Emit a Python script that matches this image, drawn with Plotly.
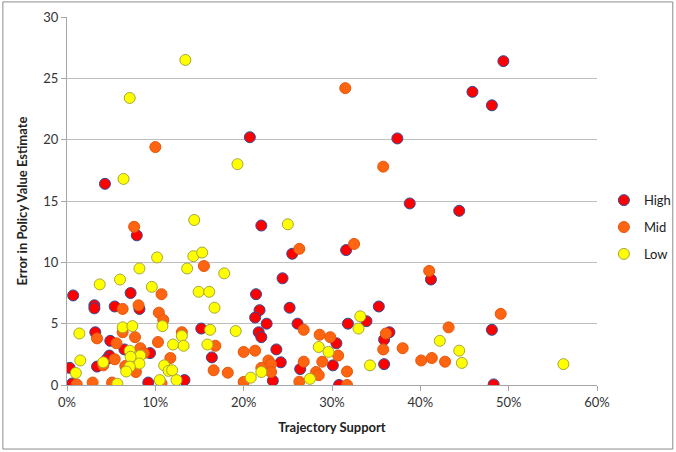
import plotly.graph_objects as go

# Trajectory support (%) and error values per group
high_x = [4.3, 20.7, 37.4, 38.8, 49.4, 45.9, 48.1, 44.4, 48.1, 48.3,
          22.0, 25.5, 31.6, 41.2, 24.4, 21.4, 25.2, 21.8, 21.3, 35.3,
          33.9, 22.6, 26.1, 31.8, 21.7, 22.0, 30.5, 36.5, 35.9, 23.7,
          24.2, 30.1, 35.9, 26.4, 23.3, 30.8,
          7.9, 7.2, 0.7, 3.1, 3.1, 5.4, 8.2, 3.2, 4.9, 6.5, 9.4, 4.8,
          4.5, 3.4, 0.3, 0.6, 9.2, 13.3, 15.2, 16.4]
high_y = [16.4, 20.2, 20.1, 14.8, 26.4, 23.9, 22.8, 14.2, 4.5, 0.05,
          13.0, 10.7, 11.0, 8.6, 8.7, 7.4, 6.3, 6.1, 5.5, 6.4,
          5.2, 5.0, 5.0, 5.0, 4.3, 3.9, 3.4, 4.3, 3.7, 2.9,
          1.85, 1.6, 1.7, 1.3, 0.35, 0.0,
          12.2, 7.5, 7.3, 6.5, 6.25, 6.4, 6.2, 4.3, 3.6, 2.9, 2.6, 2.4,
          2.1, 1.5, 1.4, 0.13, 0.2, 0.4, 4.6, 2.25]

mid_x = [10.0, 31.5, 35.8, 49.1, 43.2, 42.8, 26.3, 32.5, 41.0, 26.8,
         28.6, 29.8, 36.1, 35.8, 38.0, 40.1, 41.3, 21.3, 30.7, 22.8,
         23.1, 26.8, 28.9, 22.0, 23.1, 31.7, 28.2, 28.5, 26.3, 31.7,
         7.6, 15.5, 10.7, 6.3, 8.1, 10.4, 10.9, 3.4, 6.3, 7.7,
         5.6, 8.3, 8.7, 10.3, 13.0, 5.4, 4.1, 6.6, 7.8, 11.7,
         1.1, 2.9, 5.1, 10.7, 16.8, 20.0, 16.6, 18.2, 20.0]
mid_y = [19.4, 24.2, 17.8, 5.8, 4.7, 1.9, 11.1, 11.5, 9.3, 4.5,
         4.1, 3.9, 4.2, 2.9, 3.0, 2.0, 2.2, 2.8, 2.4, 2.0,
         1.7, 1.9, 1.9, 1.4, 1.06, 1.1, 1.06, 0.8, 0.27, 0.0,
         12.9, 9.7, 7.4, 6.2, 6.5, 5.9, 5.3, 3.8, 4.3, 3.9,
         3.4, 3.0, 2.6, 3.5, 4.3, 2.1, 1.6, 1.55, 1.06, 2.2,
         0.05, 0.2, 0.2, 0.13, 3.2, 2.7, 1.2, 1.0, 0.25]

low_x = [13.4, 7.1, 19.3, 6.4, 56.2, 42.2, 44.4, 44.7, 25.0, 33.2,
         33.0, 28.5, 29.6, 34.3, 22.0, 27.5, 20.8,
         14.4, 10.2, 14.3, 15.3, 8.2, 13.6, 17.8, 3.7, 6.0, 9.6,
         14.9, 16.1, 16.7, 16.2, 19.1, 15.9, 10.8, 1.4, 6.3, 7.4,
         13.0, 12.0, 13.2, 7.1, 8.3, 7.2, 1.5, 4.1, 8.2, 7.1,
         6.7, 1.0, 11.0, 11.5, 11.9, 5.7, 10.5, 12.4]
low_y = [26.5, 23.4, 18.0, 16.8, 1.7, 3.6, 2.8, 1.8, 13.1, 5.6,
         4.6, 3.1, 2.7, 1.6, 1.06, 0.5, 0.6,
         13.45, 10.4, 10.5, 10.8, 9.5, 9.5, 9.1, 8.2, 8.6, 8.0,
         7.6, 7.6, 6.3, 4.5, 4.4, 3.3, 4.8, 4.2, 4.7, 4.8,
         4.0, 3.3, 3.2, 2.8, 2.4, 2.3, 2.0, 1.85, 1.75, 1.5,
         1.1, 0.98, 1.6, 1.15, 1.2, 0.1, 0.4, 0.4]

x_ticks = [0, 10, 20, 30, 40, 50, 60]
y_ticks = [0, 5, 10, 15, 20, 25, 30]

FONT = "Lato, 'Liberation Sans', sans-serif"

fig = go.Figure()
series = [
    ("High", high_x, high_y, "#FF0000", "#2E4D9B"),
    ("Mid", mid_x, mid_y, "#FF6410", "#E2580C"),
    ("Low", low_x, low_y, "#FFFF00", "#A6A63A"),
]
for name, xs, ys, fill, line in series:
    fig.add_trace(go.Scatter(
        x=xs, y=ys, mode="markers", name=name, legendgroup=name,
        marker=dict(size=11, color=fill, line=dict(color=line, width=1)),
    ))

fig.update_layout(
    width=676, height=452,
    margin=dict(l=67, r=79, t=17, b=67, autoexpand=False),
    paper_bgcolor="white", plot_bgcolor="white",
    font=dict(family=FONT, size=12, color="#333333"),
    legend=dict(x=1.013, y=0.543, xanchor="left", yanchor="top",
                tracegroupgap=7, font=dict(size=13, color="#222222"),
                itemwidth=30, bgcolor="rgba(0,0,0,0)"),
    showlegend=True,
    shapes=[dict(type="rect", xref="paper", yref="paper",
                 x0=-0.121, x1=1.143, y0=-0.174, y1=1.041,
                 line=dict(color="#8C8C8C", width=1), layer="below")],
)
fig.update_xaxes(
    range=[0, 60], tickvals=x_ticks, ticktext=[f"{v}%" for v in x_ticks],
    showgrid=False, zeroline=False, showline=True, linecolor="#A6A6A6",
    linewidth=1, ticks="outside", ticklen=5, tickcolor="#A6A6A6",
    tickfont=dict(size=13),
    title=dict(text="<b>Trajectory Support</b>", font=dict(size=13, color="#222222"), standoff=14),
)
fig.update_yaxes(
    range=[0, 30], tickvals=y_ticks,
    showgrid=True, gridcolor="#BFBFBF", gridwidth=1, zeroline=False,
    showline=True, linecolor="#A6A6A6", linewidth=1,
    ticks="outside", ticklen=5, tickcolor="#A6A6A6",
    tickfont=dict(size=13),
    title=dict(text="<b>Error in Policy Value Estimate</b>", font=dict(size=13, color="#222222"), standoff=12),
)

fig.write_html(
    "out.html",
    config={"displayModeBar": False},
    post_script="document.body.style.margin='0';document.body.style.padding='0';document.body.style.overflow='hidden';",
)
